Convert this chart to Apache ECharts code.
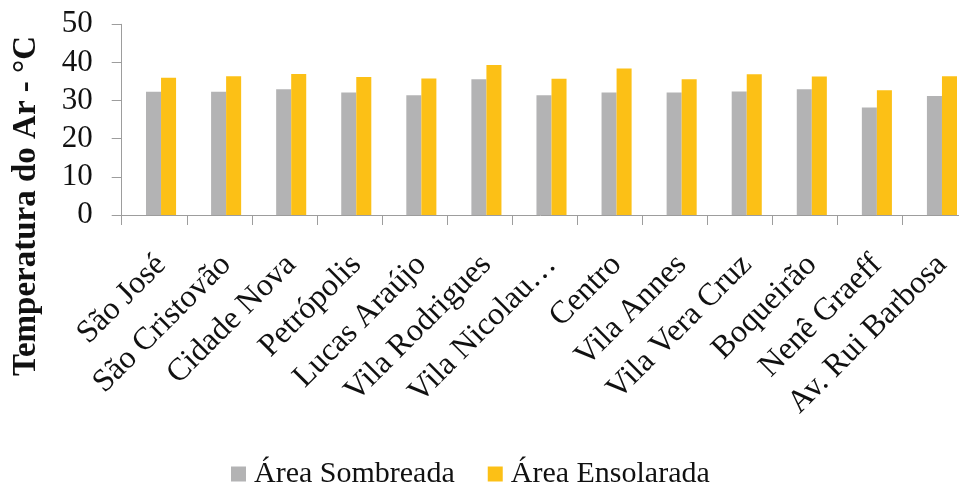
<!DOCTYPE html>
<html>
<head>
<meta charset="utf-8">
<script src="https://cdn.jsdelivr.net/npm/echarts@6/dist/echarts.min.js"></script>
<style>
  html, body { margin: 0; padding: 0; background: #ffffff; }
  #chart { width: 959px; height: 486px; }
</style>
</head>
<body>
<div id="chart"></div>
<script>
// Air temperature (°C) by neighbourhood, shaded vs. sunny spots
const categories = [
  'São José', 'São Cristovão', 'Cidade Nova', 'Petrópolis', 'Lucas Araújo',
  'Vila Rodrigues', 'Vila Nicolau…', 'Centro', 'Vila Annes', 'Vila Vera Cruz',
  'Boqueirão', 'Nenê Graeff', 'Av. Rui Barbosa'
];
const sombreada = [32.3, 32.3, 33.0, 32.1, 31.4, 35.6, 31.4, 32.1, 32.1, 32.4, 33.0, 28.2, 31.2];
const ensolarada = [36.0, 36.4, 37.0, 36.2, 35.8, 39.3, 35.7, 38.4, 35.6, 36.9, 36.3, 32.7, 36.4];
const yTicks = { min: 0, max: 50, interval: 10 };
const seriesNames = ['Área Sombreada', 'Área Ensolarada'];
const yTitle = 'Temperatura do Ar - °C';

const FONT = '"Liberation Serif", "Times New Roman", serif';
const AXIS_COLOR = '#9d9d9d';

const chart = echarts.init(document.getElementById('chart'), null, { renderer: 'canvas' });

chart.setOption({
  backgroundColor: '#ffffff',
  animation: false,
  textStyle: { fontFamily: FONT, color: '#111' },
  grid: [
    // axis frame (line + ticks); runs past the right edge of the canvas
    { left: 121.7, width: 846, top: 24.3, height: 190.7, containLabel: false, outerBoundsMode: 'none' },
    // bars and category labels
    { left: 128.5, width: 846, top: 24.3, height: 190.7, containLabel: false, outerBoundsMode: 'none' }
  ],
  xAxis: [
    {
      type: 'category', gridIndex: 0, data: categories, boundaryGap: true,
      axisLine: { show: true, lineStyle: { color: AXIS_COLOR, width: 1 } },
      axisTick: { show: true, interval: 0, length: 10, lineStyle: { color: AXIS_COLOR, width: 1 } },
      axisLabel: { show: false, interval: 0 },
      splitLine: { show: false }
    },
    {
      type: 'category', gridIndex: 1, data: categories, boundaryGap: true,
      axisLine: { show: false },
      axisTick: { show: false },
      axisLabel: {
        show: true, interval: 0, rotate: 45, margin: 45,
        fontFamily: FONT, fontSize: 32, color: '#111'
      },
      splitLine: { show: false }
    }
  ],
  yAxis: [
    {
      type: 'value', gridIndex: 0, min: yTicks.min, max: yTicks.max, interval: yTicks.interval,
      axisLine: { show: true, lineStyle: { color: AXIS_COLOR, width: 1 } },
      axisTick: { show: true, length: 10, lineStyle: { color: AXIS_COLOR, width: 1 } },
      axisLabel: { show: true, margin: 29, fontFamily: FONT, fontSize: 31, color: '#111' },
      splitLine: { show: false }
    },
    {
      type: 'value', gridIndex: 1, min: yTicks.min, max: yTicks.max, interval: yTicks.interval,
      show: false
    }
  ],
  legend: {
    data: seriesNames,
    left: 226, top: 454,
    icon: 'rect', itemWidth: 15, itemHeight: 15, itemGap: 33,
    textStyle: { fontFamily: FONT, fontSize: 30, color: '#111', padding: [0, 0, 0, 3] }
  },
  graphic: [
    {
      type: 'text', x: 26, y: 206, rotation: Math.PI / 2,
      style: {
        text: yTitle, fontFamily: FONT, fontSize: 33, fontWeight: 'bold',
        fill: '#111', align: 'center', verticalAlign: 'middle'
      }
    }
  ],
  series: [
    {
      name: seriesNames[0], type: 'bar', xAxisIndex: 1, yAxisIndex: 1,
      data: sombreada, barGap: '0%', barCategoryGap: '53.8%',
      itemStyle: { color: '#b3b3b4' }
    },
    {
      name: seriesNames[1], type: 'bar', xAxisIndex: 1, yAxisIndex: 1,
      data: ensolarada, barGap: '0%', barCategoryGap: '53.8%',
      itemStyle: { color: '#fcc016' }
    }
  ]
});
</script>
</body>
</html>
